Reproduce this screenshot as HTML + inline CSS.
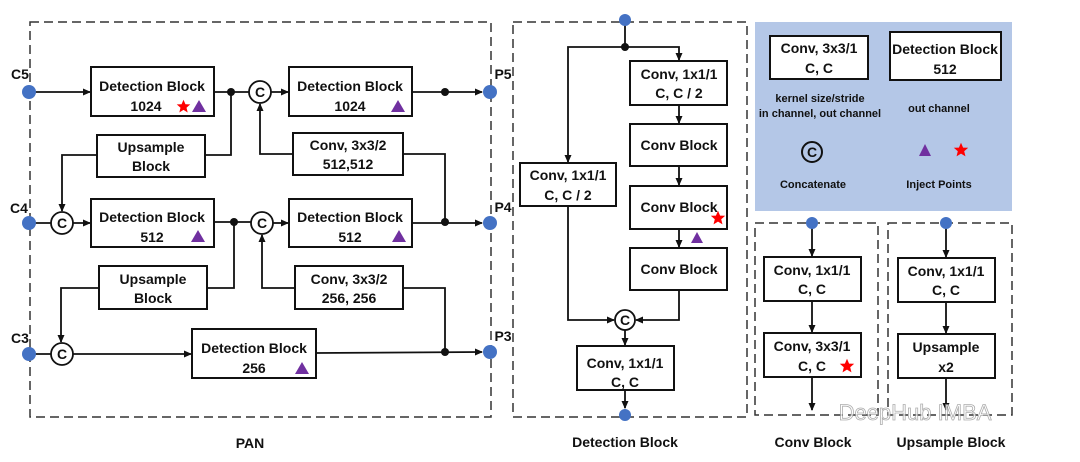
<!DOCTYPE html>
<html><head><meta charset="utf-8"><style>
html,body{margin:0;padding:0;background:#fff}
svg{display:block}
text{font-family:"Liberation Sans",sans-serif;font-weight:bold;font-size:14px;fill:#111;text-anchor:middle}
.b{fill:#fff;stroke:#111;stroke-width:2}
.l{fill:none;stroke:#111;stroke-width:1.8}
.d{fill:none;stroke:#333;stroke-width:1.5;stroke-dasharray:9,5}
.dot{fill:#4472c4}
.j{fill:#111}
.c{fill:#fff;stroke:#111;stroke-width:1.8}
.tri{fill:#7030a0}
.sm{font-size:11px}
</style></head><body>
<svg width="1080" height="462" viewBox="0 0 1080 462" xmlns="http://www.w3.org/2000/svg">
<defs>
<marker id="a" markerWidth="8" markerHeight="8" refX="7" refY="4" orient="auto" markerUnits="userSpaceOnUse"><path d="M0,0.5 L8,4 L0,7.5 z" fill="#111"/></marker>
<symbol id="star" viewBox="-10 -10 20 20"><polygon points="0,-9 2.6,-3 9,-2.8 4,1.6 5.6,8 0,4.5 -5.6,8 -4,1.6 -9,-2.8 -2.6,-3" fill="#f00"/></symbol>
</defs>
<rect class="d" x="30" y="22" width="461" height="395"/>
<line class="l" x1="29" y1="92" x2="90" y2="92" marker-end="url(#a)"/>
<rect class="b" x="91" y="67" width="123" height="49"/>
<text x="152" y="91">Detection Block</text><text x="146" y="111">1024</text>
<use href="#star" x="176" y="99" width="15" height="15"/>
<polygon class="tri" points="199,100 206,112 192,112"/>
<line class="l" x1="214" y1="92" x2="249" y2="92"/>
<circle class="j" cx="231" cy="92" r="4"/>
<circle class="c" cx="260" cy="92" r="11"/><text x="260" y="97">C</text>
<line class="l" x1="271" y1="92" x2="288" y2="92" marker-end="url(#a)"/>
<rect class="b" x="289" y="67" width="123" height="49"/>
<text x="350" y="91">Detection Block</text><text x="350" y="111">1024</text>
<polygon class="tri" points="398,100 405,112 391,112"/>
<line class="l" x1="412" y1="92" x2="482" y2="92" marker-end="url(#a)"/>
<circle class="j" cx="445" cy="92" r="4"/>
<rect class="b" x="97" y="135" width="108" height="42"/>
<text x="151" y="152">Upsample</text><text x="151" y="171">Block</text>
<polyline class="l" points="205,155 231,155 231,92"/>
<polyline class="l" points="97,155 62,155 62,211" marker-end="url(#a)"/>
<rect class="b" x="293" y="133" width="110" height="42"/>
<text x="348" y="150">Conv, 3x3/2</text><text x="348" y="169">512,512</text>
<polyline class="l" points="293,154 260,154 260,104" marker-end="url(#a)"/>
<polyline class="l" points="403,154 445,154 445,222"/>
<line class="l" x1="29" y1="223" x2="51" y2="223"/>
<circle class="c" cx="62" cy="223" r="11"/><text x="62" y="228">C</text>
<line class="l" x1="73" y1="223" x2="90" y2="223" marker-end="url(#a)"/>
<rect class="b" x="91" y="199" width="123" height="48"/>
<text x="152" y="222">Detection Block</text><text x="152" y="242">512</text>
<polygon class="tri" points="198,230 205,242 191,242"/>
<line class="l" x1="214" y1="222" x2="251" y2="222"/>
<circle class="j" cx="234" cy="222" r="4"/>
<circle class="c" cx="262" cy="223" r="11"/><text x="262" y="228">C</text>
<line class="l" x1="273" y1="223" x2="288" y2="223" marker-end="url(#a)"/>
<rect class="b" x="289" y="199" width="123" height="48"/>
<text x="350" y="222">Detection Block</text><text x="350" y="242">512</text>
<polygon class="tri" points="399,230 406,242 392,242"/>
<line class="l" x1="412" y1="223" x2="482" y2="223" marker-end="url(#a)"/>
<circle class="j" cx="445" cy="222" r="4"/>
<rect class="b" x="99" y="266" width="108" height="43"/>
<text x="153" y="284">Upsample</text><text x="153" y="303">Block</text>
<polyline class="l" points="207,288 234,288 234,222"/>
<polyline class="l" points="99,288 61,288 61,342" marker-end="url(#a)"/>
<rect class="b" x="295" y="266" width="108" height="43"/>
<text x="349" y="284">Conv, 3x3/2</text><text x="349" y="303">256, 256</text>
<polyline class="l" points="295,288 262,288 262,235" marker-end="url(#a)"/>
<polyline class="l" points="403,288 445,288 445,352"/>
<line class="l" x1="29" y1="354" x2="51" y2="354"/>
<circle class="c" cx="62" cy="354" r="11"/><text x="62" y="359">C</text>
<line class="l" x1="73" y1="354" x2="191" y2="354" marker-end="url(#a)"/>
<rect class="b" x="192" y="329" width="124" height="49"/>
<text x="254" y="353">Detection Block</text><text x="254" y="373">256</text>
<polygon class="tri" points="302,362 309,374 295,374"/>
<line class="l" x1="316" y1="353" x2="482" y2="352" marker-end="url(#a)"/>
<circle class="j" cx="445" cy="352" r="4"/>
<circle class="dot" cx="29" cy="92" r="7"/><circle class="dot" cx="29" cy="223" r="7"/><circle class="dot" cx="29" cy="354" r="7"/>
<circle class="dot" cx="490" cy="92" r="7"/><circle class="dot" cx="490" cy="223" r="7"/><circle class="dot" cx="490" cy="352" r="7"/>
<text x="20" y="79">C5</text><text x="19" y="213">C4</text><text x="20" y="343">C3</text>
<text x="503" y="79">P5</text><text x="503" y="212">P4</text><text x="503" y="341">P3</text>
<text x="250" y="448">PAN</text>

<rect class="d" x="513" y="22" width="234" height="395"/>
<line class="l" x1="625" y1="20" x2="625" y2="47"/>
<polyline class="l" points="625,47 568,47 568,162" marker-end="url(#a)"/>
<polyline class="l" points="625,47 679,47 679,60" marker-end="url(#a)"/>
<circle class="j" cx="625" cy="47" r="4"/>
<rect class="b" x="630" y="61" width="97" height="44"/>
<text x="679" y="79">Conv, 1x1/1</text><text x="679" y="98">C, C / 2</text>
<line class="l" x1="679" y1="105" x2="679" y2="123" marker-end="url(#a)"/>
<rect class="b" x="630" y="124" width="97" height="42"/>
<text x="679" y="150">Conv Block</text>
<line class="l" x1="679" y1="166" x2="679" y2="185" marker-end="url(#a)"/>
<rect class="b" x="630" y="186" width="97" height="43"/>
<text x="679" y="212">Conv Block</text>
<use href="#star" x="710" y="210" width="16" height="16"/>
<line class="l" x1="679" y1="229" x2="679" y2="247" marker-end="url(#a)"/>
<polygon class="tri" points="697,232 703,243 691,243"/>
<rect class="b" x="630" y="248" width="97" height="42"/>
<text x="679" y="274">Conv Block</text>
<rect class="b" x="520" y="163" width="96" height="43"/>
<text x="568" y="180">Conv, 1x1/1</text><text x="568" y="200">C, C / 2</text>
<polyline class="l" points="568,206 568,320 614,320" marker-end="url(#a)"/>
<polyline class="l" points="679,290 679,320 636,320" marker-end="url(#a)"/>
<circle class="c" cx="625" cy="320" r="10"/><text x="625" y="325">C</text>
<line class="l" x1="625" y1="330" x2="625" y2="345" marker-end="url(#a)"/>
<rect class="b" x="577" y="346" width="97" height="44"/>
<text x="625" y="368">Conv, 1x1/1</text><text x="625" y="387">C, C</text>
<line class="l" x1="625" y1="390" x2="625" y2="408" marker-end="url(#a)"/>
<circle class="dot" cx="625" cy="20" r="6"/><circle class="dot" cx="625" cy="415" r="6"/>
<text x="625" y="447">Detection Block</text>

<rect x="755" y="22" width="257" height="189" fill="#b4c7e7"/>
<rect class="b" x="770" y="36" width="98" height="43"/>
<text x="819" y="53">Conv, 3x3/1</text><text x="819" y="73">C, C</text>
<rect class="b" x="890" y="32" width="111" height="48"/>
<text x="945" y="54">Detection Block</text><text x="945" y="74">512</text>
<text x="820" y="102" class="sm">kernel size/stride</text>
<text x="820" y="117" class="sm">in channel, out channel</text>
<text x="939" y="112" class="sm">out channel</text>
<circle cx="812" cy="152" r="10" fill="none" stroke="#111" stroke-width="2"/><text x="812" y="157">C</text>
<text x="813" y="188" class="sm">Concatenate</text>
<polygon class="tri" points="925,144 931,156 919,156"/>
<use href="#star" x="953" y="142" width="16" height="16"/>
<text x="939" y="188" class="sm">Inject Points</text>

<rect class="d" x="755" y="223" width="123" height="192"/>
<line class="l" x1="812" y1="223" x2="812" y2="256" marker-end="url(#a)"/>
<rect class="b" x="764" y="257" width="97" height="44"/>
<text x="812" y="275">Conv, 1x1/1</text><text x="812" y="294">C, C</text>
<line class="l" x1="812" y1="301" x2="812" y2="332" marker-end="url(#a)"/>
<rect class="b" x="764" y="333" width="97" height="44"/>
<text x="812" y="351">Conv, 3x3/1</text><text x="812" y="371">C, C</text>
<use href="#star" x="839" y="358" width="16" height="16"/>
<line class="l" x1="812" y1="377" x2="812" y2="410" marker-end="url(#a)"/>
<circle class="dot" cx="812" cy="223" r="6"/>
<text x="813" y="447">Conv Block</text>

<rect class="d" x="888" y="223" width="124" height="192"/>
<line class="l" x1="946" y1="223" x2="946" y2="257" marker-end="url(#a)"/>
<rect class="b" x="898" y="258" width="97" height="44"/>
<text x="946" y="276">Conv, 1x1/1</text><text x="946" y="295">C, C</text>
<line class="l" x1="946" y1="302" x2="946" y2="333" marker-end="url(#a)"/>
<rect class="b" x="898" y="334" width="97" height="44"/>
<text x="946" y="352">Upsample</text><text x="946" y="372">x2</text>
<line class="l" x1="946" y1="378" x2="946" y2="410" marker-end="url(#a)"/>
<circle class="dot" cx="946" cy="223" r="6"/>
<text x="951" y="447">Upsample Block</text>

<text x="915" y="420" style="font-size:22px;font-weight:normal;fill:#fff;stroke:#999;stroke-width:0.8;opacity:0.8">DeepHub IMBA</text>
</svg>
</body></html>
